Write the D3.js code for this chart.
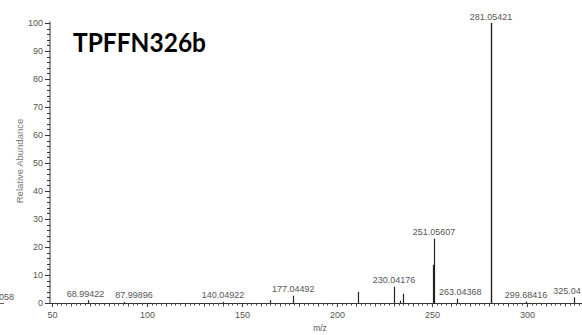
<!DOCTYPE html>
<html><head><meta charset="utf-8">
<script src="https://cdn.jsdelivr.net/npm/d3@7"></script>
<style>
html,body{margin:0;padding:0;background:#fff;overflow:hidden}
svg{display:block}
text{font-family:"Liberation Sans",Arial,sans-serif}
</style></head>
<body><svg id="c" width="582" height="335"></svg>
<script>
// ---- data ----
const title = "TPFFN326b";
const peakMz =        [68.99422, 87.99896, 140.04922, 165.0, 177.04492, 211.0, 230.04176, 233.2, 235.0, 250.5, 251.05607, 263.04368, 281.05421, 299.68416, 325.04];
const peakIntensity = [1.0,      0.4,      0.4,       1.0,   2.6,       4.0,   5.8,       0.8,   3.3,   13.6,  23.0,      1.5,       100,       0.5,       2.0];
const peakLabels =    ["68.99422","87.99896","140.04922","", "177.04492","",   "230.04176","",   "",    "",    "251.05607","263.04368","281.05421","299.68416","325.04"];
const xTickValues = [50, 100, 150, 200, 250, 300];
const yTickValues = [0, 10, 20, 30, 40, 50, 60, 70, 80, 90, 100];
const xDomain = [49, 329];
const yDomain = [0, 100];
const xTitle = "m/z";
const yTitle = "Relative Abundance";
const offsideLabel = "058";

// ---- layout ----
const svg = d3.select("#c");
const x = d3.scaleLinear().domain(xDomain).range([50, 582]);
const y = d3.scaleLinear().domain(yDomain).range([303, 23]);

// y axis
const yAxis = d3.axisLeft(y).tickValues(yTickValues).tickSize(5).tickPadding(2);
const gy = svg.append("g").attr("transform", "translate(50,0)").call(yAxis);
gy.select(".domain").attr("stroke", "#333").attr("d", "M0,21.5V303.5");
gy.selectAll(".tick line").attr("stroke", "#333");
gy.selectAll(".tick text").attr("fill", "#555").style("font-size", "9px");
// minor y ticks
const yMinor = d3.range(0, 100.01, 2).filter(v => v % 10 !== 0);
svg.append("g").selectAll("line").data(yMinor).join("line")
  .attr("x1", 47).attr("x2", 50)
  .attr("y1", d => Math.round(y(d)) + 0.5).attr("y2", d => Math.round(y(d)) + 0.5)
  .attr("stroke", "#333");

// x axis
const xAxis = d3.axisBottom(x).tickValues(xTickValues).tickSize(4).tickPadding(5);
const gx = svg.append("g").attr("transform", "translate(0,303)").call(xAxis);
gx.select(".domain").attr("stroke", "#333").attr("d", "M50,0.5H582");
gx.selectAll(".tick line").attr("stroke", "#333");
gx.selectAll(".tick text").attr("fill", "#555").style("font-size", "9px");
// minor x ticks
const xMinor = d3.range(50, 330, 2.5).filter(v => v % 50 !== 0);
svg.append("g").selectAll("line").data(xMinor).join("line")
  .attr("x1", d => Math.round(x(d)) + 0.5).attr("x2", d => Math.round(x(d)) + 0.5)
  .attr("y1", 303).attr("y2", d => d % 10 === 0 ? 306.5 : 305.5)
  .attr("stroke", "#444");

// axis titles
svg.append("text").attr("x", 320).attr("y", 331).attr("text-anchor", "middle")
  .attr("fill", "#555").style("font-size", "8.5px").text(xTitle);
svg.append("text").attr("transform", "translate(23,161) rotate(-90)")
  .attr("text-anchor", "middle").attr("fill", "#777").style("font-size", "9.5px").text(yTitle);

// peaks
const peaks = peakMz.map((m, i) => ({ m, v: peakIntensity[i], label: peakLabels[i] }));
svg.append("g").selectAll("line").data(peaks).join("line")
  .attr("x1", d => Math.round(x(d.m)) + 0.5).attr("x2", d => Math.round(x(d.m)) + 0.5)
  .attr("y1", y(0)).attr("y2", d => y(d.v))
  .attr("stroke", "#222").attr("stroke-width", d => d.v > 50 ? 1.4 : 1.2);

// peak labels with simple collision avoidance
const labelFont = 9;
const tmp = svg.append("text").style("font-size", labelFont + "px").text("000.00000");
const stdW = tmp.node().getComputedTextLength();
tmp.remove();
const labs = peaks.filter(d => d.label).map(d => ({ ...d, cx: x(d.m), w: stdW, by: y(d.v) - 3.5 }));
// keep labels clear of taller neighbouring peak lines
labs.forEach(l => {
  peaks.forEach(p => {
    if (y(p.v) > l.by - 8 || p.m === l.m) return;
    const px = x(p.m);
    const left = l.cx - l.w / 2, right = l.cx + l.w / 2;
    if (px > left - 4 && px < l.cx) l.cx += (px + 5) - left;
    else if (px < right + 4 && px > l.cx) l.cx -= right - (px - 5);
  });
});
// label vs label (only when they share a text row)
for (let i = 0; i < labs.length; i++) {
  for (let j = i + 1; j < labs.length; j++) {
    const a = labs[i], b = labs[j];
    if (Math.abs(a.by - b.by) > 10) continue;
    const gap = (b.cx - b.w / 2) - (a.cx + a.w / 2);
    const need = 6 - gap;
    if (need > 0) {
      if (b.v <= a.v) b.cx += need; else a.cx -= need;
    }
  }
}
svg.append("g").selectAll("text").data(labs).join("text")
  .attr("x", d => d.cx - d.w / 2).attr("y", d => d.by)
  .attr("fill", "#555").style("font-size", labelFont + "px").text(d => d.label);

// fragment of neighbouring panel at left edge
svg.append("text").attr("x", 14).attr("y", 300).attr("text-anchor", "end")
  .attr("fill", "#555").style("font-size", labelFont + "px").text(offsideLabel);
svg.append("line").attr("x1", 0).attr("x2", 4).attr("y1", 303.5).attr("y2", 303.5).attr("stroke", "#666");

// title
svg.append("text").attr("x", 73).attr("y", 52)
  .attr("textLength", 133).attr("lengthAdjust", "spacingAndGlyphs")
  .style("font-family", "Lato, 'Open Sans', sans-serif").style("font-weight", 700)
  .style("font-size", "27px").attr("fill", "#000").text(title);
</script></body></html>
